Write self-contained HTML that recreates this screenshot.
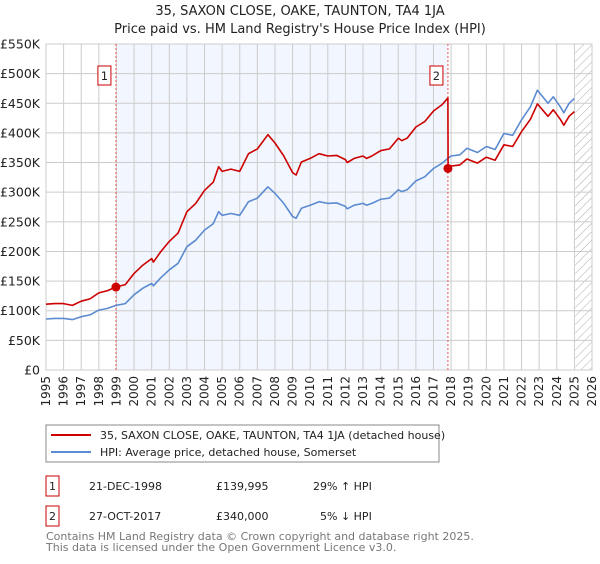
<!DOCTYPE html>
<html><head><meta charset="utf-8"><style>
body{margin:0;background:#fff;font-family:"DejaVu Sans","Liberation Sans",sans-serif;}
svg text{font-family:"DejaVu Sans","Liberation Sans",sans-serif;}
</style></head><body>
<svg id="c" width="600" height="560" xmlns="http://www.w3.org/2000/svg">
<defs><pattern id="hatch" width="6" height="6" patternUnits="userSpaceOnUse" patternTransform="rotate(45)"><line x1="0" y1="0" x2="0" y2="6" stroke="#aaa" stroke-width="1"/></pattern></defs>
<text x="300" y="15" text-anchor="middle" font-size="13" fill="#222">35, SAXON CLOSE, OAKE, TAUNTON, TA4 1JA</text>
<text x="300" y="33" text-anchor="middle" font-size="13" fill="#222">Price paid vs. HM Land Registry's House Price Index (HPI)</text>
<g id="plot"></g>
<g>
<rect x="46" y="425" width="393" height="37" fill="#fff" stroke="#888"/>
<line x1="51" y1="435" x2="91" y2="435" stroke="#cc0000" stroke-width="2"/>
<text x="100" y="439" font-size="11" fill="#222">35, SAXON CLOSE, OAKE, TAUNTON, TA4 1JA (detached house)</text>
<line x1="51" y1="452" x2="91" y2="452" stroke="#5b8bd0" stroke-width="2"/>
<text x="100" y="456" font-size="11" fill="#222">HPI: Average price, detached house, Somerset</text>
</g>
<g font-size="11" fill="#222">
<rect x="46" y="476" width="13" height="20" fill="#fff" stroke="#cc0000"/>
<text x="52.5" y="490" text-anchor="middle">1</text>
<text x="89" y="490">21-DEC-1998</text>
<text x="216" y="490">£139,995</text>
<text x="313" y="490">29% ↑ HPI</text>
<rect x="46" y="506" width="13" height="20" fill="#fff" stroke="#cc0000"/>
<text x="52.5" y="520" text-anchor="middle">2</text>
<text x="89" y="520">27-OCT-2017</text>
<text x="216" y="520">£340,000</text>
<text x="320" y="520">5% ↓ HPI</text>
</g>
<text x="46" y="540" font-size="11" fill="#777">Contains HM Land Registry data © Crown copyright and database right 2025.</text>
<text x="46" y="551" font-size="11" fill="#777">This data is licensed under the Open Government Licence v3.0.</text>
</svg>
<script>
const hpiYears=[1995,1995.5,1996,1996.5,1997,1997.5,1998,1998.5,1998.97,1999.5,2000,2000.5,2001,2001.1,2001.5,2002,2002.5,2003,2003.5,2004,2004.5,2004.8,2005,2005.5,2006,2006.5,2007,2007.6,2008,2008.5,2009,2009.2,2009.5,2010,2010.5,2011,2011.5,2012,2012.1,2012.5,2013,2013.2,2013.5,2014,2014.5,2015,2015.2,2015.5,2016,2016.5,2017,2017.5,2017.82,2018,2018.5,2018.9,2019.5,2020,2020.5,2021,2021.5,2022,2022.5,2022.9,2023.5,2023.8,2024.2,2024.4,2024.7,2025.0];
const hpiValues=[86,87,87,85,90,93,101,104,109,112,127,138,146,142,155,169,180,208,219,236,247,267,261,264,261,284,290,309,298,281,259,256,273,278,284,281,282,276,272,278,281,278,281,288,290,304,301,304,319,326,340,349,357,361,363,374,367,377,372,399,396,422,444,472,450,461,444,434,450,458];
const propYears=[1995,1995.5,1996,1996.5,1997,1997.5,1998,1998.5,1998.97,1999.5,2000,2000.5,2001,2001.1,2001.5,2002,2002.5,2003,2003.5,2004,2004.5,2004.8,2005,2005.5,2006,2006.5,2007,2007.6,2008,2008.5,2009,2009.2,2009.5,2010,2010.5,2011,2011.5,2012,2012.1,2012.5,2013,2013.2,2013.5,2014,2014.5,2015,2015.2,2015.5,2016,2016.5,2017,2017.5,2017.82,2017.83,2018,2018.5,2018.9,2019.5,2020,2020.5,2021,2021.5,2022,2022.5,2022.9,2023.5,2023.8,2024.2,2024.4,2024.7,2025.0];
const propValues=[111,112,112,109,116,120,130,134,140,144,163,177,188,182,199,217,231,267,281,303,317,343,335,339,335,365,373,397,383,361,333,329,351,357,365,361,362,355,350,357,361,357,361,370,373,391,387,391,410,419,437,448,459,340,344,346,356,349,359,354,380,377,402,423,449,428,439,423,413,428,436];
const saleYears=[1998.97,2017.82];
const saleValues=[139.995,340];
const saleLabels=["1","2"];
const yTicks=[0,50,100,150,200,250,300,350,400,450,500,550];
const yTickLabels=["£0","£50K","£100K","£150K","£200K","£250K","£300K","£350K","£400K","£450K","£500K","£550K"];
const xTicks=[1995,1996,1997,1998,1999,2000,2001,2002,2003,2004,2005,2006,2007,2008,2009,2010,2011,2012,2013,2014,2015,2016,2017,2018,2019,2020,2021,2022,2023,2024,2025,2026];

const L=46,R=592,T=44,B=370,X0=1995,X1=2026,YMAX=550;
const xs=v=>L+(v-X0)/(X1-X0)*(R-L);
const ys=v=>B-v/YMAX*(B-T);
const NS="http://www.w3.org/2000/svg";
const g=document.getElementById('plot');
function mk(tag,attrs,parent){const e=document.createElementNS(NS,tag);for(const k in attrs)e.setAttribute(k,attrs[k]);(parent||g).appendChild(e);return e;}

const shade=mk('rect',{x:xs(saleYears[0]),y:T,width:xs(saleYears[1])-xs(saleYears[0]),height:B-T,fill:'#eef3fd',opacity:0.75});


const hat=mk('rect',{x:xs(2025.05),y:T,width:R-xs(2025.05),height:B-T,fill:'url(#hatch)'});



xTicks.forEach(t=>{
  const l=mk('line',{x1:xs(t),x2:xs(t),y1:T,y2:B,stroke:'#ccc','stroke-width':1});
  
  
  const tx=mk('text',{x:0,y:0,'font-size':12,fill:'#222','text-anchor':'end',transform:`translate(${xs(t)+4},${B+6}) rotate(-90)`});
  tx.textContent=t;
  
  
});
yTicks.forEach((t,i)=>{
  const l=mk('line',{x1:L,x2:R,y1:ys(t),y2:ys(t),stroke:'#ccc','stroke-width':1});
  
  
  const tx=mk('text',{x:L-6,y:ys(t)+4.5,'font-size':12.5,fill:'#222','text-anchor':'end'});
  tx.textContent=yTickLabels[i];
  
  
});
const frame=mk('rect',{x:L,y:T,width:R-L,height:B-T,fill:'none',stroke:'#ccc'});



saleYears.forEach((y,i)=>{
  const l=mk('line',{x1:xs(y),x2:xs(y),y1:T,y2:B,stroke:'#e55','stroke-width':1,'stroke-dasharray':'2,2'});
  
  
});

function path(xsArr,vals,color,name){
  const d=xsArr.map((x,i)=>(i?'L':'M')+xs(x).toFixed(1)+','+ys(vals[i]).toFixed(1)).join('');
  const p=mk('path',{d:d,fill:'none',stroke:color,'stroke-width':1.6,'stroke-linejoin':'round'});
  
  
}
path(hpiYears,hpiValues,'#5b8bd0','hpi-line');
path(propYears,propValues,'#cc0000','property-line');

saleYears.forEach((y,i)=>{
  const c=mk('circle',{cx:xs(y),cy:ys(saleValues[i]),r:4.5,fill:'#cc0000'});
  
  
  const r=mk('rect',{x:xs(y)-18,y:66,width:13,height:19,fill:'#fff',stroke:'#cc0000'});
  
  
  const t=mk('text',{x:xs(y)-11.5,y:80,'font-size':11.5,fill:'#222','text-anchor':'middle'});
  t.textContent=saleLabels[i];
  
  
});
</script>
</body></html>
